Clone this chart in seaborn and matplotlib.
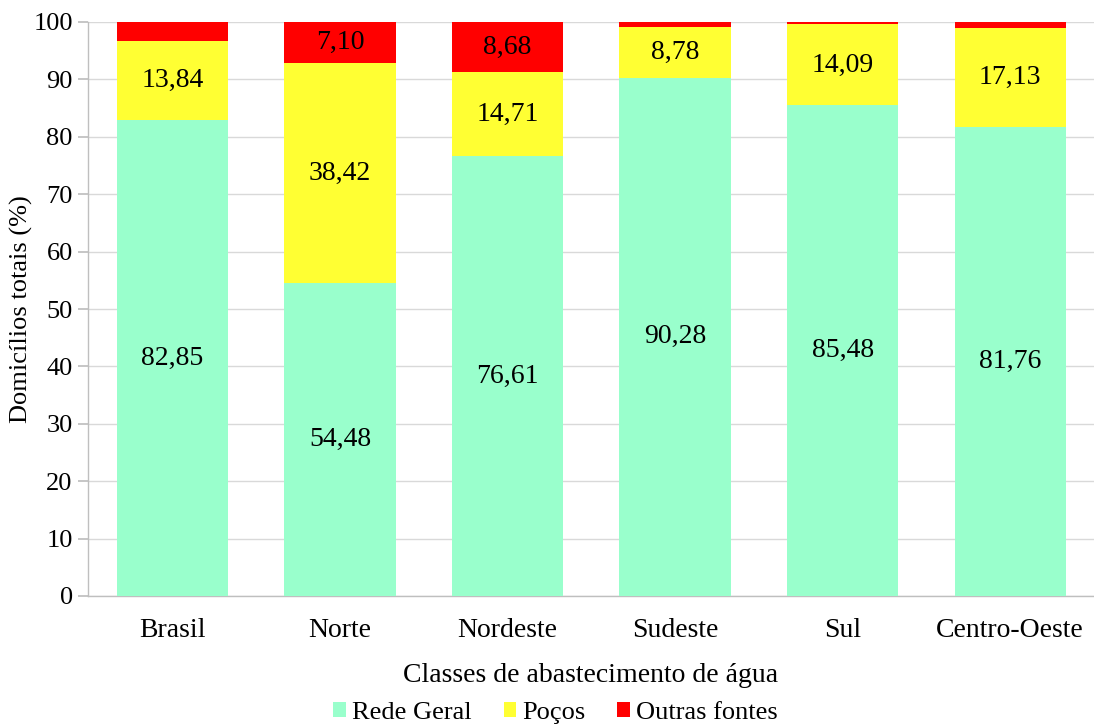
import matplotlib
matplotlib.use("Agg")
import matplotlib.pyplot as plt
import numpy as np
import pandas as pd
import seaborn as sns
from matplotlib.patches import Patch

regioes = ["Brasil", "Norte", "Nordeste", "Sudeste", "Sul", "Centro-Oeste"]
rede_geral = [82.85, 54.48, 76.61, 90.28, 85.48, 81.76]
pocos = [13.84, 38.42, 14.71, 8.78, 14.09, 17.13]
outras = [3.31, 7.10, 8.68, 0.94, 0.43, 1.11]
mostrar_outras = [False, True, True, False, False, False]

cores = {"Rede Geral": "#99FFCC", "Poços": "#FFFF33", "Outras fontes": "#FF0000"}

sns.set_theme(style="white")
plt.rcParams["font.family"] = ["Liberation Serif", "DejaVu Serif"]
plt.rcParams["text.color"] = "black"
plt.rcParams["axes.labelcolor"] = "black"
plt.rcParams["xtick.color"] = "black"
plt.rcParams["ytick.color"] = "black"

df = pd.DataFrame({"regiao": regioes, "rede": rede_geral, "pocos": pocos, "outras": outras})
df["cum_pocos"] = df["rede"] + df["pocos"]
df["cum_total"] = df["cum_pocos"] + df["outras"]

fig = plt.figure(figsize=(10.94, 7.26), dpi=100)
ax = fig.add_axes([88 / 1094, 1 - 596 / 726, 1006 / 1094, 574 / 726])

# barras empilhadas desenhadas como barras cumulativas sobrepostas
for col, nome in [("cum_total", "Outras fontes"), ("cum_pocos", "Poços"), ("rede", "Rede Geral")]:
    sns.barplot(data=df, x="regiao", y=col, color=cores[nome], saturation=1,
                width=0.665, ax=ax, zorder=3, linewidth=0)

for i in range(len(regioes)):
    ax.text(i, rede_geral[i] / 2, f"{rede_geral[i]:.2f}".replace(".", ","),
            ha="center", va="center", fontsize=20, zorder=5)
    ax.text(i, rede_geral[i] + pocos[i] / 2, f"{pocos[i]:.2f}".replace(".", ","),
            ha="center", va="center", fontsize=20, zorder=5)
    if mostrar_outras[i]:
        ax.text(i, rede_geral[i] + pocos[i] + outras[i] / 2, f"{outras[i]:.2f}".replace(".", ","),
                ha="center", va="center", fontsize=20, zorder=5)

ax.set_ylim(0, 100)
ax.set_xlim(-0.505, 5.43)
ax.set_yticks(np.arange(0, 101, 10))
ax.yaxis.grid(True, color="#D9D9D9", linewidth=1, zorder=0)
ax.set_axisbelow(True)

for s in ["top", "right"]:
    ax.spines[s].set_visible(False)
for s in ["left", "bottom"]:
    ax.spines[s].set_color("#BFBFBF")
    ax.spines[s].set_linewidth(1)

ax.set_xticks(range(len(regioes)))
ax.set_xticklabels(regioes, fontsize=20)
ax.tick_params(axis="x", length=0, pad=16)
ax.set_xticks(np.arange(-0.5, len(regioes)), minor=True)
ax.tick_params(axis="x", which="minor", length=7, color="#BFBFBF", direction="out")
ax.tick_params(axis="y", labelsize=19, length=7, color="#BFBFBF", labelcolor="black",
               direction="out", left=True, pad=4)

ax.set_xlabel("Classes de abastecimento de água", fontsize=20, labelpad=14)
ax.set_ylabel("Domicílios totais (%)", fontsize=19, va="center")
ax.yaxis.set_label_coords(-0.066, 0.5)

handles = [Patch(facecolor=cores[n], edgecolor="none", label=n) for n in ["Rede Geral", "Poços", "Outras fontes"]]
fig.legend(handles=handles, loc="center", bbox_to_anchor=(0.508, 1 - 713 / 726), ncol=3,
           frameon=False, fontsize=19, handlelength=0.47, handleheight=0.47,
           handletextpad=0.25, columnspacing=1.2, borderpad=0)

fig.savefig("out.png", dpi=100)
